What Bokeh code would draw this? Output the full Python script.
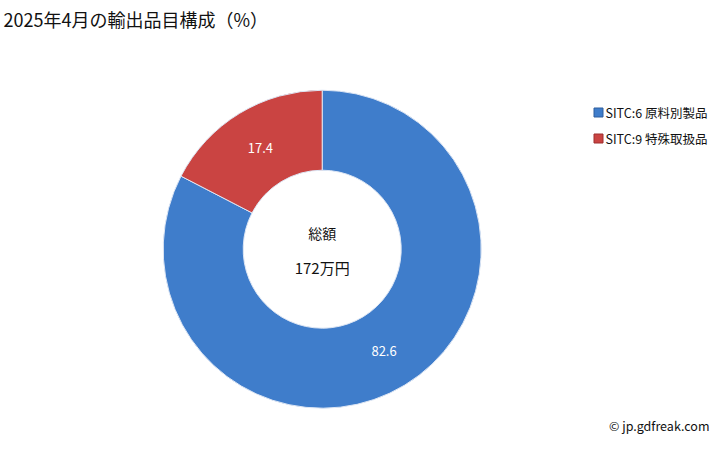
import math
from bokeh.plotting import figure
from bokeh.models import ColumnDataSource, Range1d
from bokeh.core.properties import value
from bokeh.embed import file_html
from bokeh.resources import INLINE

title_text = "2025年4月の輸出品目構成（%）"
categories = ["SITC:6 原料別製品", "SITC:9 特殊取扱品"]
values = [82.6, 17.4]
colors = ["#3F7DCB", "#CA4442"]
center_label = "総額"
total_label = "172万円"
credit = "© jp.gdfreak.com"

W, H = 712, 434
FONT = "Noto Sans CJK JP"

cx, cy = 321.7, H - 248.7
r_out, r_in = 159.0, 79.0

total = sum(values)
starts, ends, lx, ly, labels = [], [], [], [], []
cum = 0.0
for v in values:
    a0 = math.pi / 2 - 2 * math.pi * cum / total
    a1 = math.pi / 2 - 2 * math.pi * (cum + v) / total
    starts.append(a1)
    ends.append(a0)
    mid = (a0 + a1) / 2
    rm = (r_out + r_in) / 2
    lx.append(cx + rm * math.cos(mid))
    ly.append(cy + rm * math.sin(mid))
    labels.append(f"{v:.1f}")
    cum += v

src = ColumnDataSource(dict(start=starts, end=ends, color=colors, lx=lx, ly=ly, label=labels))

p = figure(width=W, height=H, output_backend="svg", toolbar_location=None,
           x_range=Range1d(0, W), y_range=Range1d(0, H),
           x_axis_type=None, y_axis_type=None, min_border=0)
p.outline_line_color = None
p.xgrid.visible = False
p.ygrid.visible = False
p.background_fill_color = "white"

p.annular_wedge(x=cx, y=cy, inner_radius=r_in, outer_radius=r_out,
                start_angle="start", end_angle="end", fill_color="color",
                line_color="#DDE6F4", line_width=1, source=src)

p.text(x="lx", y="ly", text="label", source=src, text_color="white",
       text_font=value(FONT), text_font_size="13px",
       text_align="center", text_baseline="middle")

p.text(x=[cx], y=[H - 232], text=[center_label], text_font=value(FONT),
       text_font_size="14px", text_align="center", text_baseline="middle",
       text_color="#111111")
p.text(x=[cx], y=[H - 267], text=[total_label], text_font=value(FONT),
       text_font_size="15px", text_align="center", text_baseline="middle",
       text_color="#111111")

p.text(x=[3], y=[H - 18], text=[title_text], text_font=value(FONT),
       text_font_size="18px", text_align="left", text_baseline="middle",
       text_color="#111111")

leg_y = [H - 112, H - 138]
p.rect(x=[598, 598], y=leg_y, width=9, height=9, fill_color=colors,
       line_color=["#2E5E9E", "#9E2E2E"], line_width=1)
p.text(x=[605, 605], y=leg_y, text=categories, text_font=value(FONT),
       text_font_size="12.5px", text_align="left", text_baseline="middle",
       text_color="#111111")

p.text(x=[W - 3], y=[H - 425], text=[credit], text_font=value(FONT),
       text_font_size="12.5px", text_align="right", text_baseline="middle",
       text_color="#111111")

open("out.html", "w").write(file_html(p, INLINE))
